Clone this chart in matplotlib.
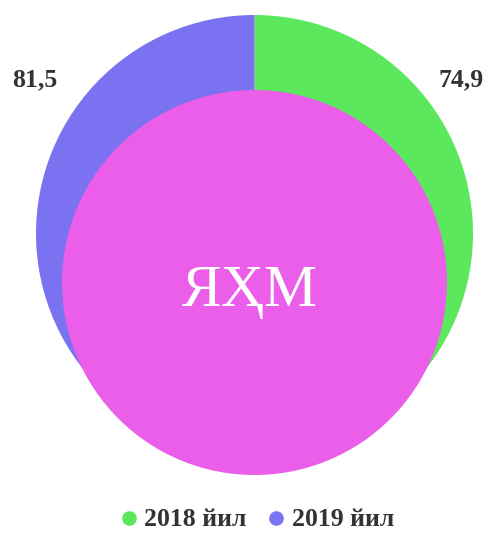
import matplotlib
matplotlib.use("Agg")
import matplotlib.pyplot as plt
from matplotlib.patches import Circle
from matplotlib.lines import Line2D

categories = ["2018 йил", "2019 йил"]
values = [74.9, 81.5]
value_labels = ["74,9", "81,5"]
colors = ["#5ce85c", "#7a72f0"]
center_label = "ЯҲМ"
center_color = "#ea5eea"

W, H = 489, 533
fig = plt.figure(figsize=(W / 100, H / 100), dpi=100)
ax = fig.add_axes([0, 0, 1, 1])
ax.set_xlim(0, W)
ax.set_ylim(0, H)
ax.set_aspect("equal")
ax.axis("off")

serif = ["Liberation Serif", "DejaVu Serif"]
txt_color = "#333333"

# outer pie
cx, cy, r = 254.5, H - 233.5, 218.5
wedges, _ = ax.pie(values, colors=colors, startangle=90, counterclock=False,
                   center=(cx, cy), radius=r, frame=True,
                   wedgeprops=dict(linewidth=0))
ax.set_xlim(0, W)
ax.set_ylim(0, H)
ax.axis("off")

# inner circle
ax.add_patch(Circle((254.5, H - 282.5), 192.5, facecolor=center_color,
                    edgecolor="none", zorder=3))
ax.text(250, H - 292, center_label, color="white", fontsize=43,
        family=serif, ha="center", va="center", zorder=4)

# value labels
ax.text(461, H - 80, value_labels[0], fontsize=18.5, fontweight="bold",
        family=serif, color=txt_color, ha="center", va="center")
ax.text(35, H - 80, value_labels[1], fontsize=18.5, fontweight="bold",
        family=serif, color=txt_color, ha="center", va="center")

handles = [Line2D([], [], marker="o", linestyle="none", markersize=10.5,
                  markerfacecolor=c, markeredgecolor="none") for c in colors]
leg = ax.legend(handles, categories, loc="center", bbox_to_anchor=(255 / W, 1 - 520 / H),
                ncol=2, frameon=False, handletextpad=0.1, columnspacing=0.65,
                handlelength=1.0, prop=dict(family=serif, weight="bold", size=18.5))
for t in leg.get_texts():
    t.set_color(txt_color)

fig.savefig("out.png", dpi=100)
